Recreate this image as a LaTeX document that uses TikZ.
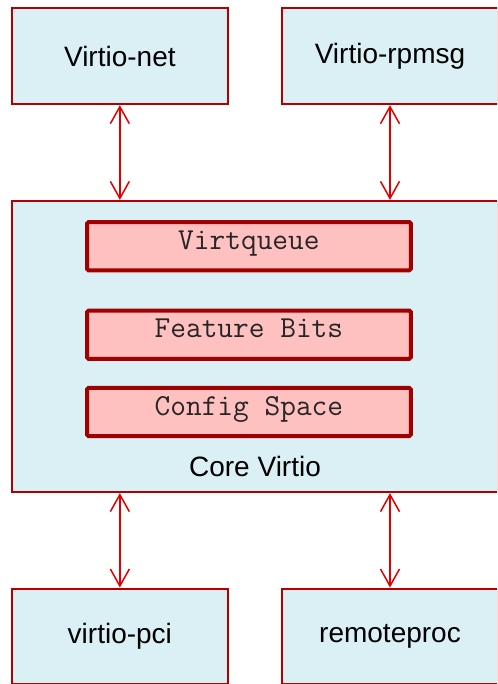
\documentclass[tikz,border=0pt]{standalone}
\usepackage{fontspec}
\setmainfont{Liberation Sans}
\usetikzlibrary{arrows.meta}
\definecolor{boxfill}{RGB}{218,240,245}
\definecolor{boxred}{RGB}{176,0,0}
\definecolor{innerfill}{RGB}{255,192,192}
\definecolor{innerred}{RGB}{160,0,0}
\definecolor{linkred}{RGB}{224,0,0}
\begin{document}
\begin{tikzpicture}[x=1pt,y=-1pt,
  outerbox/.style={rectangle, draw=boxred, fill=boxfill, line width=2.2pt,
    inner sep=0pt, font=\fontsize{28}{32}\selectfont},
  innerbox/.style={rectangle, draw=innerred, fill=innerfill, line width=4pt,
    rounded corners=1.5pt, inner sep=0pt, minimum width=323.7pt,
    minimum height=48.3pt},
  codetext/.style={anchor=base, inner sep=0pt, text=black!85,
    font=\ttfamily\fontsize{30.5}{33}\selectfont},
  endbox/.style={outerbox, minimum width=215.7pt, minimum height=95.7pt},
  link/.style={draw=linkred, line width=1.5pt,
    {Straight Barb[length=17pt,width=19pt]}-{Straight Barb[length=17pt,width=19pt]}}]
  \useasboundingbox (0,0) rectangle (497,684);
  \clip (0,0) rectangle (497,684);

  % drivers on top
  \node[endbox] (net) at (119.85,56.2) {Virtio-net};
  \node[endbox] (rpmsg) at (390,56.2) {Virtio-rpmsg};

  % core layer with its building blocks
  \node[outerbox, minimum width=486pt, minimum height=291pt] (core) at (255,346.5) {};
  \node[innerbox] (vq) at (248.9,246.2) {};
  \node[innerbox] (fb) at (248.9,334.7) {};
  \node[innerbox] (cs) at (248.9,412) {};
  \node[codetext] (vqtext) at (248.9,249.3) {Virtqueue};
  \node[codetext] (fbtext) at (248.9,337.7) {Feature Bits};
  \node[codetext] (cstext) at (248.9,415) {Config Space};
  \node[anchor=base, inner sep=0pt, font=\fontsize{28}{32}\selectfont] (corelabel) at (255,476.7) {Core Virtio};

  % transports at the bottom
  \node[endbox] (pci) at (119.85,636.5) {virtio-pci};
  \node[endbox] (rproc) at (390,636.5) {remoteproc};

  % bidirectional links
  \draw[link] (net.south) -- (net.south |- core.north);
  \draw[link] (rpmsg.south) -- (rpmsg.south |- core.north);
  \draw[link] (pci.north |- core.south) -- (pci.north);
  \draw[link] (rproc.north |- core.south) -- (rproc.north);
\end{tikzpicture}
\end{document}
